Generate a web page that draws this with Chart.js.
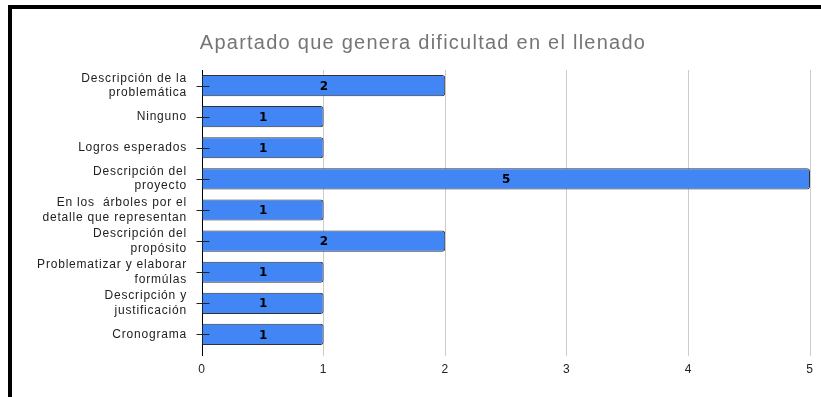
<!DOCTYPE html>
<html>
<head>
<meta charset="utf-8">
<script src="https://cdn.jsdelivr.net/npm/chart.js@4/dist/chart.umd.min.js"></script>
<style>
html,body{margin:0;padding:0;background:#fff;}
#wrap{position:relative;width:821px;height:397px;overflow:hidden;}
#frame{position:absolute;left:8px;top:5px;width:821px;height:400px;border-top:4px solid #000;border-left:4px solid #000;box-sizing:border-box;pointer-events:none;}
canvas{position:absolute;left:0;top:0;}
</style>
</head>
<body>
<div id="wrap">
<canvas id="c" width="821" height="397"></canvas>
<div id="frame"></div>
</div>
<script>
const titleText = "Apartado que genera dificultad en el llenado";
const categories = [
  ["Descripción de la", "problemática"],
  "Ninguno",
  "Logros esperados",
  ["Descripción del", "proyecto"],
  ["En los  árboles por el", "detalle que representan"],
  ["Descripción del", "propósito"],
  ["Problematizar y elaborar", "formúlas"],
  ["Descripción y", "justificación"],
  "Cronograma"
];
const values = [2, 1, 1, 5, 1, 2, 1, 1, 1];
const xTicks = [0, 1, 2, 3, 4, 5];

const spacingPlugin = {
  id: 'spacing',
  beforeInit(chart) { chart.ctx.letterSpacing = '0.8px'; },
  beforeUpdate(chart) { chart.ctx.letterSpacing = '0.8px'; },
  beforeDraw(chart) { chart.ctx.letterSpacing = '0.8px'; }
};

const titlePlugin = {
  id: 'titleText',
  afterDraw(chart) {
    const ctx = chart.ctx;
    ctx.save();
    ctx.letterSpacing = '1.25px';
    ctx.font = '20px "Liberation Sans", Arial, sans-serif';
    ctx.fillStyle = '#757575';
    ctx.textAlign = 'center';
    ctx.textBaseline = 'alphabetic';
    ctx.fillText(titleText, 423, 49);
    ctx.restore();
  }
};

const labelPlugin = {
  id: 'barLabels',
  afterDatasetsDraw(chart) {
    const ctx = chart.ctx;
    const meta = chart.getDatasetMeta(0);
    const yScale = chart.scales.y;
    ctx.save();
    ctx.letterSpacing = '0px';
    ctx.strokeStyle = '#222';
    ctx.lineWidth = 1;
    const ax = Math.round(yScale.right) + 0.5;
    categories.forEach((c, i) => {
      const y = Math.round(yScale.getPixelForValue(i)) + 0.5;
      ctx.beginPath();
      ctx.moveTo(ax - 6, y);
      ctx.lineTo(ax + 7, y);
      ctx.stroke();
    });
    ctx.font = 'bold 12px "DejaVu Sans", sans-serif';
    ctx.fillStyle = '#000';
    ctx.textAlign = 'center';
    ctx.textBaseline = 'middle';
    meta.data.forEach((bar, i) => {
      ctx.fillText(String(values[i]), (bar.base + bar.x) / 2, bar.y + 1);
    });
    ctx.restore();
  }
};

new Chart(document.getElementById('c'), {
  type: 'bar',
  data: {
    labels: categories,
    datasets: [{
      data: values,
      backgroundColor: '#4285F4',
      borderColor: '#333333',
      borderWidth: 1,
      borderRadius: 3,
      borderSkipped: 'start',
      barPercentage: 0.68,
      categoryPercentage: 1.0
    }]
  },
  options: {
    indexAxis: 'y',
    responsive: false,
    animation: false,
    devicePixelRatio: 1,
    layout: { padding: { left: 12, right: 11, top: 70, bottom: 0 } },
    plugins: {
      legend: { display: false },
      title: { display: false },
      tooltip: { enabled: false }
    },
    scales: {
      x: {
        min: 0,
        max: 5,
        afterBuildTicks(scale) { scale.ticks = xTicks.map(v => ({ value: v })); },
        afterFit(scale) { scale.height = 47; },
        grid: {
          color: ctx => (ctx.tick && ctx.tick.value === 0) ? '#000' : '#cccccc',
          tickLength: 6,
          lineWidth: 1
        },
        border: { display: false },
        ticks: {
          color: '#222',
          font: { family: '"Liberation Sans", Arial, sans-serif', size: 12 },
          padding: 6
        }
      },
      y: {
        afterFit(scale) { scale.width = 190; },
        grid: { display: false },
        border: { display: true, color: '#000', width: 1 },
        ticks: {
          autoSkip: false,
          color: '#222',
          font: { family: '"Liberation Sans", Arial, sans-serif', size: 12, lineHeight: 1.2 },
          padding: 7
        }
      }
    }
  },
  plugins: [spacingPlugin, titlePlugin, labelPlugin]
});
</script>
</body>
</html>
